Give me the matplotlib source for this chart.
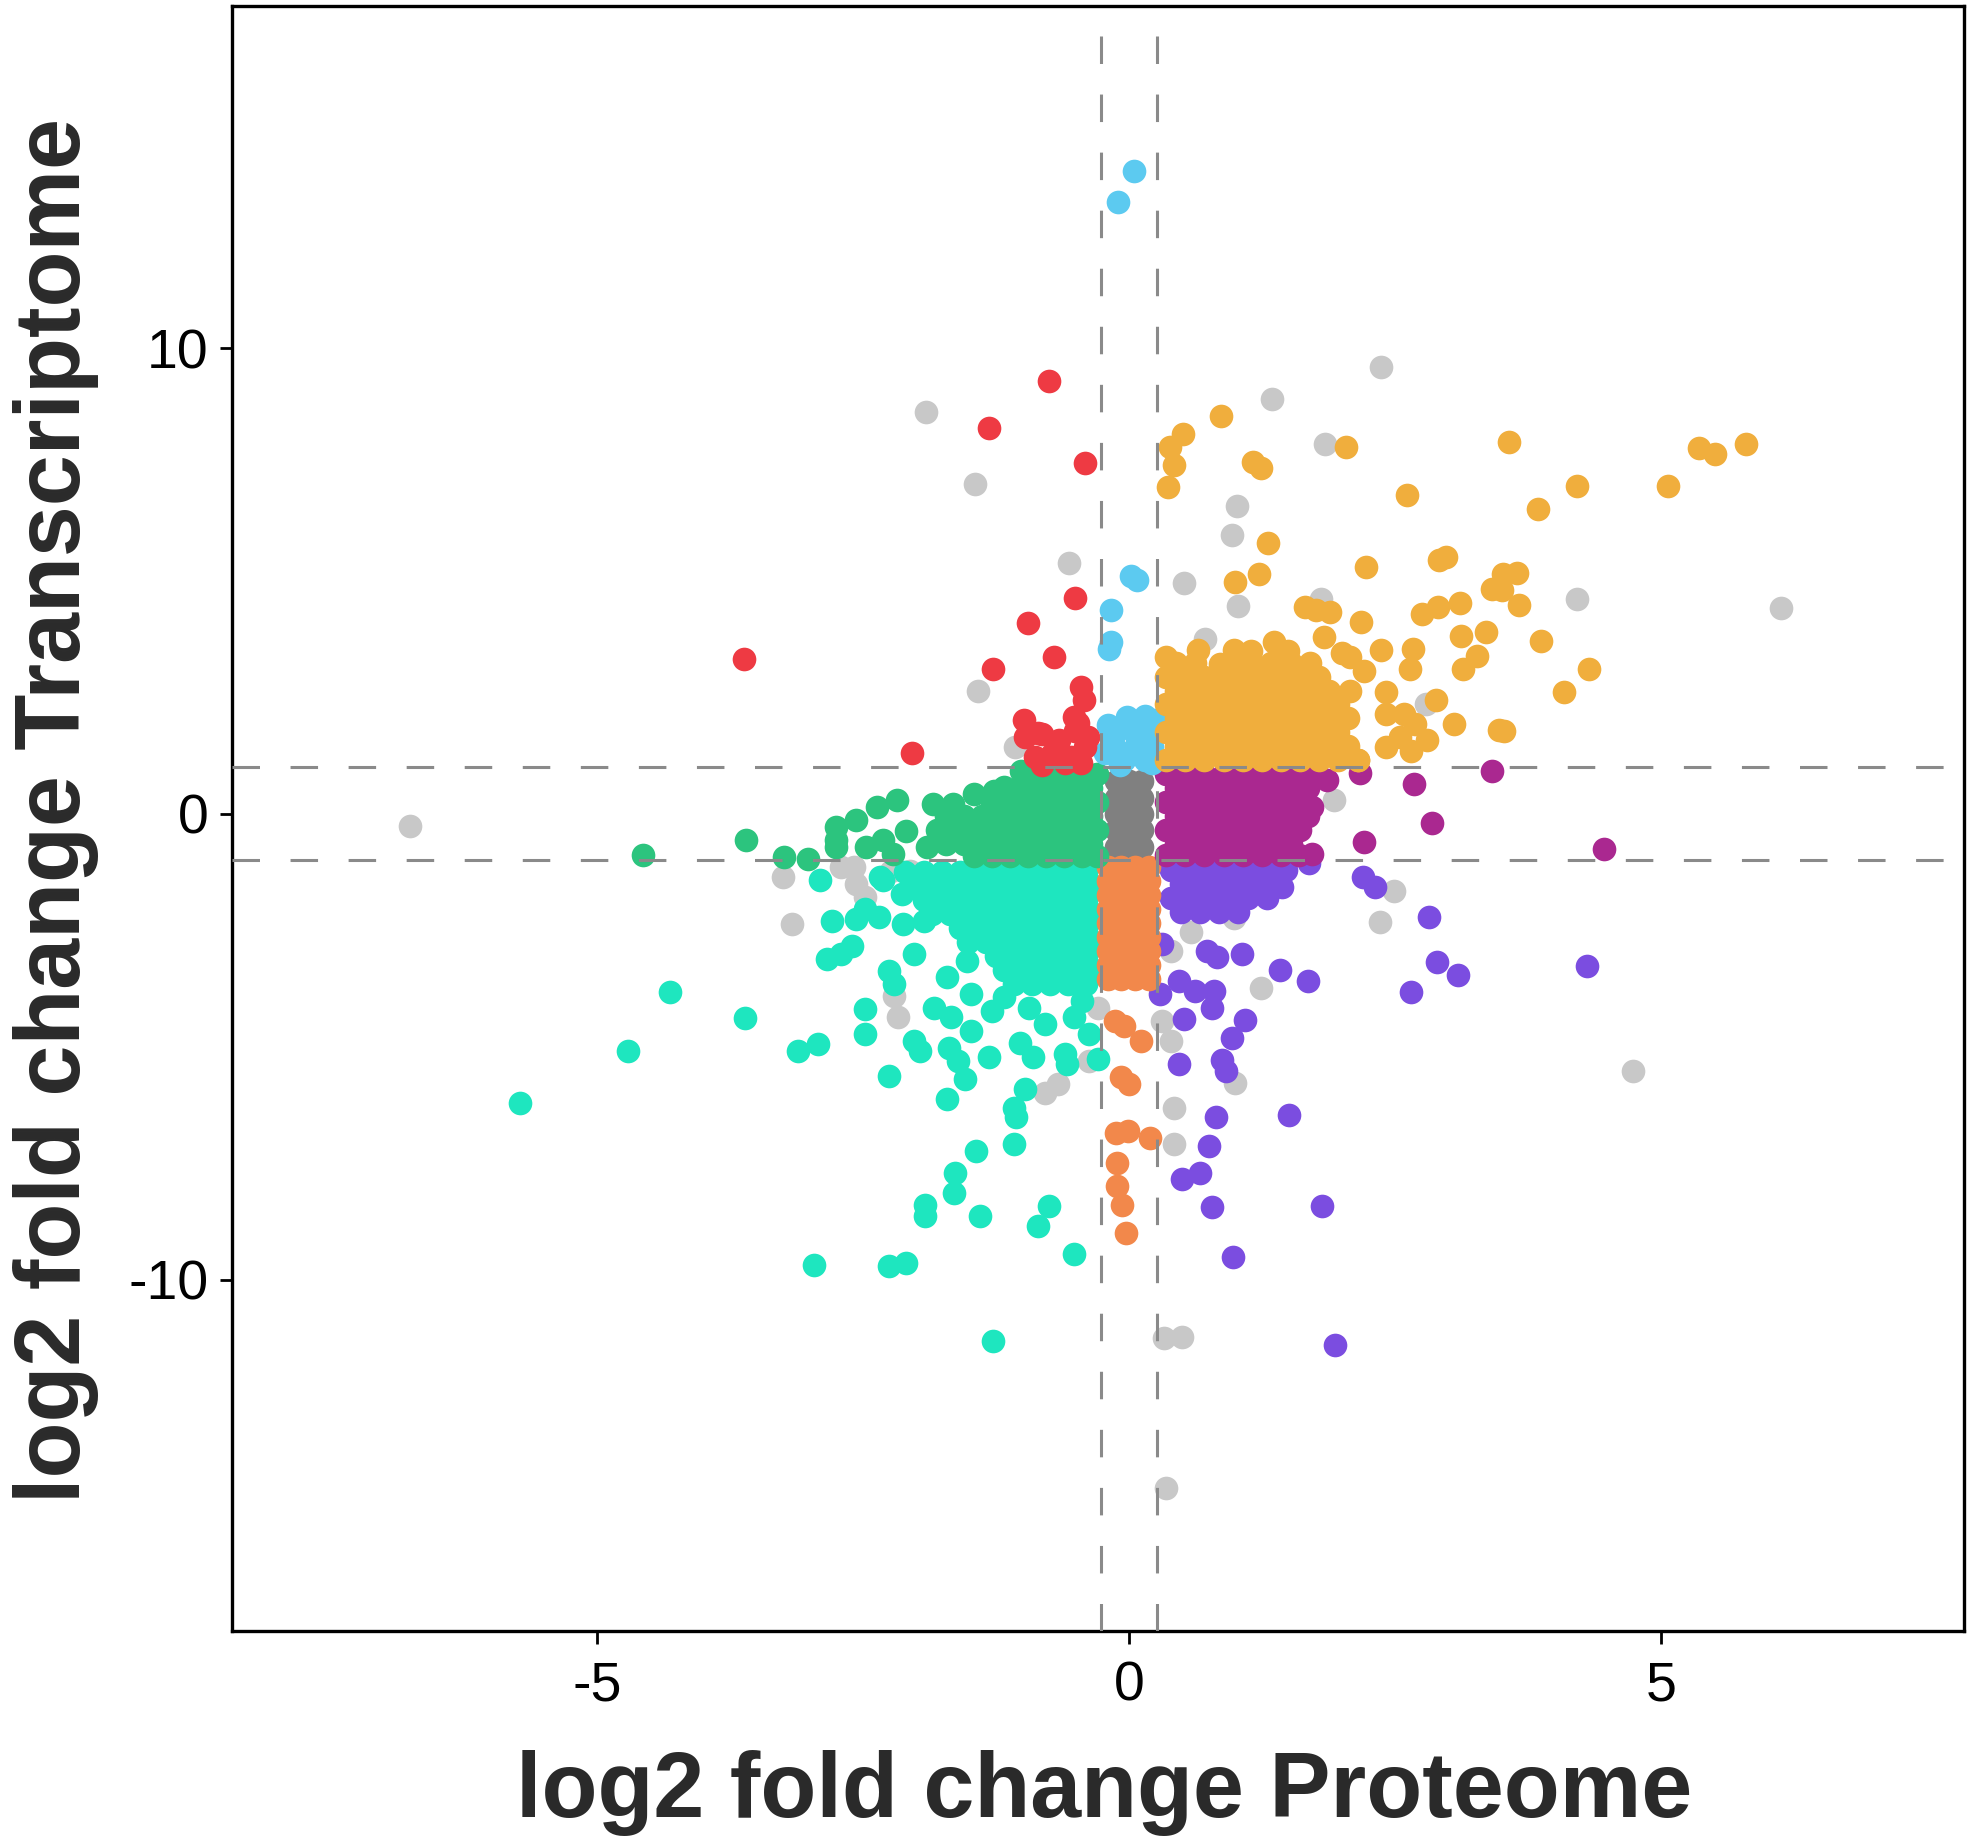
import numpy as np
import matplotlib
matplotlib.use("Agg")
import matplotlib.pyplot as plt

plt.rcParams['font.family'] = ['Liberation Sans', 'DejaVu Sans']
plt.rcParams['axes.unicode_minus'] = False

# thresholds
x_cut = 0.263
y_cut = 1.0

# not significant
ns_pts = [(-6.76, -0.27), (-1.91, 8.63), (-1.45, 7.08), (-1.42, 2.63), (-0.56, 5.39), (-1.07, 1.43),
          (1.35, 8.92), (2.37, 9.59), (1.84, 7.94), (1.02, 6.61), (0.97, 5.99), (0.52, 4.96), (1.03, 4.46),
          (0.72, 3.76), (1.81, 4.62), (4.21, 4.62), (6.13, 4.43), (2.79, 2.37), (1.93, 0.29),
          (-3.25, -1.36), (-3.17, -2.37), (-2.71, -1.15), (-2.58, -1.15), (-2.56, -1.51), (-2.48, -1.79),
          (-2.17, -4.37), (-2.21, -3.91), (-2.06, -1.22), (-2.24, -1.22), (-0.37, -3.30), (-0.79, -5.99),
          (-0.67, -5.81), (-0.37, -5.31), (-0.29, -4.16),
          (2.49, -1.66), (2.36, -2.33), (1.24, -3.74), (0.99, -2.24), (0.58, -2.54), (0.40, -2.94),
          (1.00, -5.77), (0.42, -6.31), (0.42, -7.08), (0.40, -4.87), (0.31, -4.44), (4.74, -5.53),
          (0.33, -11.25), (0.50, -11.24), (0.35, -14.48)]

# both unchanged
mid_pts = [(-0.12, 0.7), (0.0, 0.7), (0.12, 0.7), (-0.12, 0.35), (0.0, 0.35), (0.12, 0.35),
           (-0.12, 0.0), (0.0, 0.0), (0.12, 0.0), (-0.12, -0.35), (0.0, -0.35), (0.12, -0.35),
           (-0.12, -0.7), (0.0, -0.7), (0.12, -0.7)]

# protein down, transcript unchanged
green_pts = [(-4.57, -0.88), (-3.60, -0.57), (-3.24, -0.93), (-3.02, -0.97), (-2.75, -0.29), (-2.56, -0.14),
             (-2.37, 0.14), (-2.18, 0.29), (-2.75, -0.57), (-2.47, -0.72), (-2.31, -0.57), (-2.09, -0.36),
             (-2.22, -0.86), (-1.90, -0.72), (-1.84, 0.22), (-1.65, 0.22), (-1.46, 0.43), (-1.27, 0.50),
             (-1.17, 0.57), (-1.01, 0.93), (-2.75, -0.72),
             (-0.95, 0.85), (-0.78, 0.85), (-0.61, 0.85), (-0.44, 0.85), (-0.30, 0.85),
             (-1.04, 0.55), (-0.87, 0.55), (-0.70, 0.55), (-0.53, 0.55), (-0.36, 0.55),
             (-1.29, 0.25), (-1.12, 0.25), (-0.95, 0.25), (-0.78, 0.25), (-0.61, 0.25), (-0.44, 0.25),
             (-0.30, 0.25),
             (-1.72, -0.05), (-1.55, -0.05), (-1.38, -0.05), (-1.21, -0.05), (-1.04, -0.05), (-0.87, -0.05),
             (-0.70, -0.05), (-0.53, -0.05), (-0.36, -0.05),
             (-1.80, -0.35), (-1.63, -0.35), (-1.46, -0.35), (-1.29, -0.35), (-1.12, -0.35), (-0.95, -0.35),
             (-0.78, -0.35), (-0.61, -0.35), (-0.44, -0.35), (-0.30, -0.35),
             (-1.72, -0.65), (-1.55, -0.65), (-1.38, -0.65), (-1.21, -0.65), (-1.04, -0.65), (-0.87, -0.65),
             (-0.70, -0.65), (-0.53, -0.65), (-0.36, -0.65),
             (-1.46, -0.90), (-1.29, -0.90), (-1.12, -0.90), (-0.95, -0.90), (-0.78, -0.90), (-0.61, -0.90),
             (-0.44, -0.90), (-0.30, -0.90)]

# protein down, transcript up
red_pts = [(-0.75, 9.30), (-1.31, 8.28), (-0.41, 7.53), (-3.62, 3.33), (-0.51, 4.64), (-0.95, 4.09),
           (-0.70, 3.38), (-1.28, 3.11), (-0.45, 2.73), (-0.42, 2.45), (-2.04, 1.31), (-0.99, 2.02),
           (-0.85, 1.73), (-0.52, 2.08), (-0.48, 1.95), (-0.98, 1.65), (-0.82, 1.72), (-0.66, 1.58),
           (-0.505, 1.79), (-0.41, 1.43), (-0.88, 1.22), (-0.72, 1.29), (-0.54, 1.22), (-0.82, 1.05),
           (-0.38, 1.65), (-0.60, 1.10), (-0.45, 1.10)]

# protein unchanged, transcript up
blue_pts = [(0.05, 13.80), (-0.10, 13.15), (0.02, 5.12), (0.08, 5.02), (-0.17, 4.37), (-0.17, 3.69),
            (-0.19, 3.55), (-0.02, 2.08), (0.25, 2.01), (0.15, 2.10), (-0.15, 1.65), (0.08, 1.58),
            (0.22, 1.43), (-0.05, 1.15), (0.15, 1.15), (-0.22, 1.30), (-0.10, 1.80), (0.05, 1.85),
            (0.20, 1.70), (-0.20, 1.90), (0.12, 1.35), (-0.12, 1.40), (0.0, 1.30), (-0.08, 1.05),
            (0.22, 1.10)]

# both up
yellow_pts = [(0.51, 8.15), (0.39, 7.89), (0.42, 7.49), (0.37, 7.03), (0.87, 8.55), (1.17, 7.56),
              (1.24, 7.42), (2.04, 7.89), (1.31, 5.82), (2.61, 6.84), (3.57, 7.99), (4.21, 7.04),
              (3.85, 6.54), (5.07, 7.04), (5.36, 7.85), (5.51, 7.73), (5.80, 7.94), (3.52, 5.16),
              (3.65, 5.18), (3.51, 4.81), (3.67, 4.48), (3.87, 3.72), (4.33, 3.12), (4.09, 2.62),
              (3.53, 1.79), (1.22, 5.16), (1.00, 4.98), (2.23, 5.31), (2.92, 5.46), (2.98, 5.52),
              (3.41, 4.84), (2.76, 4.29), (2.91, 4.45), (3.11, 4.52), (3.12, 3.83), (3.36, 3.91),
              (3.27, 3.40), (3.14, 3.12), (2.67, 3.55), (2.64, 3.12), (2.42, 2.62), (2.89, 2.44),
              (3.06, 1.94), (3.48, 1.81), (2.42, 2.15), (2.59, 2.15), (2.69, 1.94), (2.80, 1.58),
              (2.65, 1.36), (2.42, 1.43), (2.55, 1.65), (2.18, 4.12), (1.76, 4.37), (1.89, 4.34),
              (2.37, 3.51), (2.15, 1.15), (1.36, 3.69), (1.66, 4.44), (1.83, 3.80), (2.08, 3.37),
              (2.21, 3.08), (2.08, 2.65), (0.35, 3.37), (0.65, 3.51), (0.99, 3.51), (0.86, 3.23),
              (0.35, 1.15), (0.53, 1.15), (0.71, 1.15), (0.89, 1.15), (1.07, 1.15), (1.25, 1.15),
              (1.43, 1.15), (1.61, 1.15), (1.79, 1.15), (1.97, 1.15), (2.15, 1.15),
              (0.44, 1.45), (0.62, 1.45), (0.80, 1.45), (0.98, 1.45), (1.16, 1.45), (1.34, 1.45),
              (1.52, 1.45), (1.70, 1.45), (1.88, 1.45), (2.06, 1.45),
              (0.35, 1.75), (0.53, 1.75), (0.71, 1.75), (0.89, 1.75), (1.07, 1.75), (1.25, 1.75),
              (1.43, 1.75), (1.61, 1.75), (1.79, 1.75), (1.97, 1.75),
              (0.44, 2.05), (0.62, 2.05), (0.80, 2.05), (0.98, 2.05), (1.16, 2.05), (1.34, 2.05),
              (1.52, 2.05), (1.70, 2.05), (1.88, 2.05), (2.06, 2.05),
              (0.35, 2.35), (0.53, 2.35), (0.71, 2.35), (0.89, 2.35), (1.07, 2.35), (1.25, 2.35),
              (1.43, 2.35), (1.61, 2.35), (1.79, 2.35), (1.97, 2.35),
              (0.44, 2.65), (0.62, 2.65), (0.80, 2.65), (0.98, 2.65), (1.16, 2.65), (1.34, 2.65),
              (1.52, 2.65), (1.70, 2.65), (1.88, 2.65),
              (0.35, 2.95), (0.53, 2.95), (0.71, 2.95), (0.89, 2.95), (1.07, 2.95), (1.25, 2.95),
              (1.43, 2.95), (1.61, 2.95), (1.79, 2.95),
              (0.44, 3.25), (0.62, 3.25), (0.98, 3.25), (1.16, 3.25), (1.34, 3.25), (1.52, 3.25),
              (1.70, 3.25),
              (1.15, 3.50), (1.50, 3.50), (2.00, 3.45)]

# protein up, transcript unchanged
magenta_pts = [(1.86, 0.72), (2.17, 0.88), (2.68, 0.65), (2.85, -0.20), (2.21, -0.60), (1.72, 0.14),
               (1.72, -0.86), (3.41, 0.93), (4.47, -0.75),
               (0.35, 0.85), (0.53, 0.85), (0.71, 0.85), (0.89, 0.85), (1.07, 0.85), (1.25, 0.85),
               (1.43, 0.85), (1.61, 0.85), (1.77, 0.85),
               (0.44, 0.55), (0.62, 0.55), (0.80, 0.55), (0.98, 0.55), (1.16, 0.55), (1.34, 0.55),
               (1.52, 0.55), (1.68, 0.55),
               (0.35, 0.25), (0.53, 0.25), (0.71, 0.25), (0.89, 0.25), (1.07, 0.25), (1.25, 0.25),
               (1.43, 0.25), (1.61, 0.25),
               (0.44, -0.05), (0.62, -0.05), (0.80, -0.05), (0.98, -0.05), (1.16, -0.05), (1.34, -0.05),
               (1.52, -0.05), (1.68, -0.05),
               (0.35, -0.35), (0.53, -0.35), (0.71, -0.35), (0.89, -0.35), (1.07, -0.35), (1.25, -0.35),
               (1.43, -0.35), (1.61, -0.35),
               (0.44, -0.65), (0.62, -0.65), (0.80, -0.65), (0.98, -0.65), (1.16, -0.65), (1.34, -0.65),
               (1.52, -0.65),
               (0.35, -0.88), (0.53, -0.88), (0.71, -0.88), (0.89, -0.88), (1.07, -0.88), (1.25, -0.88),
               (1.43, -0.88), (1.60, -0.88)]

# protein up, transcript down
purple_pts = [(1.44, -1.58), (1.69, -1.06), (2.20, -1.36), (2.31, -1.56), (2.82, -2.22), (2.90, -3.19),
              (3.09, -3.46), (2.65, -3.83), (4.31, -3.27), (0.73, -2.94), (0.83, -3.08), (1.06, -3.01),
              (1.42, -3.35), (1.68, -3.58), (0.31, -2.80), (0.47, -3.58), (0.62, -3.80), (0.80, -3.80),
              (0.78, -4.16), (0.29, -3.87), (0.52, -4.41), (1.09, -4.43), (0.97, -4.82), (0.88, -5.29),
              (0.91, -5.52), (0.47, -5.38), (1.51, -6.46), (0.82, -6.52), (0.75, -7.13), (0.67, -7.72),
              (0.50, -7.85), (0.78, -8.45), (1.82, -8.42), (0.98, -9.52), (1.94, -11.40),
              (0.40, -1.2), (0.58, -1.2), (0.76, -1.2), (0.94, -1.2), (1.12, -1.2), (1.30, -1.2), (1.48, -1.2),
              (0.49, -1.5), (0.67, -1.5), (0.85, -1.5), (1.03, -1.5), (1.21, -1.5), (1.39, -1.5),
              (0.40, -1.8), (0.58, -1.8), (0.76, -1.8), (0.94, -1.8), (1.12, -1.8), (1.30, -1.8),
              (0.49, -2.1), (0.67, -2.1), (0.85, -2.1), (1.03, -2.1)]

# both down
teal_pts = [(-5.72, -6.20), (-4.71, -5.10), (-4.31, -3.82), (-3.61, -4.39), (-3.11, -5.09), (-2.92, -4.95),
            (-2.48, -4.19), (-2.48, -4.72), (-2.25, -5.63), (-1.71, -6.13), (-2.02, -4.88), (-1.96, -5.09),
            (-1.44, -7.24), (-1.08, -7.10), (-1.63, -7.71), (-1.06, -6.52), (-1.08, -6.31), (-0.98, -5.91),
            (-1.31, -5.23), (-1.54, -5.70), (-1.61, -5.31), (-1.69, -5.02), (-1.02, -4.91), (-0.90, -5.23),
            (-0.58, -5.38), (-0.60, -5.16), (-0.29, -5.27), (-0.37, -4.73), (-0.52, -4.37), (-0.44, -4.01),
            (-0.79, -4.52), (-0.94, -4.16), (-1.83, -4.16), (-1.67, -4.37), (-1.48, -4.66), (-1.29, -4.23),
            (-2.25, -3.37), (-2.21, -3.66), (-2.02, -3.01), (-1.71, -3.51), (-1.52, -3.15), (-1.48, -3.87),
            (-1.17, -3.94), (-2.84, -3.12), (-2.71, -3.01), (-2.60, -2.83), (-2.79, -2.29), (-2.56, -2.26),
            (-2.48, -2.04), (-2.35, -2.22), (-2.12, -2.37), (-1.93, -2.29), (-2.90, -1.43), (-2.31, -1.43),
            (-2.13, -1.72), (-2.34, -1.36),
            (-2.96, -9.68), (-2.25, -9.70), (-2.09, -9.64), (-1.28, -11.33), (-0.52, -9.45), (-0.85, -8.85),
            (-0.75, -8.42), (-1.40, -8.64), (-1.92, -8.39), (-1.92, -8.64), (-1.64, -8.14),
            (-2.10, -1.25), (-1.93, -1.25), (-1.76, -1.25), (-1.59, -1.25), (-1.42, -1.25), (-1.25, -1.25),
            (-1.08, -1.25), (-0.91, -1.25), (-0.74, -1.25), (-0.57, -1.25), (-0.40, -1.25),
            (-2.02, -1.55), (-1.85, -1.55), (-1.68, -1.55), (-1.51, -1.55), (-1.34, -1.55), (-1.17, -1.55),
            (-1.00, -1.55), (-0.83, -1.55), (-0.66, -1.55), (-0.49, -1.55), (-0.33, -1.55),
            (-1.93, -1.85), (-1.76, -1.85), (-1.59, -1.85), (-1.42, -1.85), (-1.25, -1.85), (-1.08, -1.85),
            (-0.91, -1.85), (-0.74, -1.85), (-0.57, -1.85), (-0.40, -1.85),
            (-1.85, -2.15), (-1.68, -2.15), (-1.51, -2.15), (-1.34, -2.15), (-1.17, -2.15), (-1.00, -2.15),
            (-0.83, -2.15), (-0.66, -2.15), (-0.49, -2.15), (-0.33, -2.15),
            (-1.59, -2.45), (-1.42, -2.45), (-1.25, -2.45), (-1.08, -2.45), (-0.91, -2.45), (-0.74, -2.45),
            (-0.57, -2.45), (-0.40, -2.45),
            (-1.51, -2.75), (-1.34, -2.75), (-1.17, -2.75), (-1.00, -2.75), (-0.83, -2.75), (-0.66, -2.75),
            (-0.49, -2.75), (-0.33, -2.75),
            (-1.25, -3.05), (-1.08, -3.05), (-0.91, -3.05), (-0.74, -3.05), (-0.57, -3.05), (-0.40, -3.05),
            (-1.17, -3.35), (-1.00, -3.35), (-0.83, -3.35), (-0.66, -3.35), (-0.49, -3.35), (-0.33, -3.35),
            (-1.08, -3.65), (-0.91, -3.65), (-0.74, -3.65), (-0.57, -3.65), (-0.40, -3.65)]

# protein unchanged, transcript down
orange_pts = [(-0.20, -1.15), (-0.07, -1.15), (0.06, -1.15), (0.19, -1.15),
              (-0.20, -1.45), (-0.07, -1.45), (0.06, -1.45), (0.19, -1.45),
              (-0.20, -1.75), (-0.07, -1.75), (0.06, -1.75), (0.19, -1.75),
              (-0.20, -2.05), (-0.07, -2.05), (0.06, -2.05), (0.19, -2.05),
              (-0.20, -2.35), (-0.07, -2.35), (0.06, -2.35), (0.19, -2.35),
              (-0.20, -2.65), (-0.07, -2.65), (0.06, -2.65), (0.19, -2.65),
              (-0.20, -2.95), (-0.07, -2.95), (0.06, -2.95), (0.19, -2.95),
              (-0.20, -3.25), (-0.07, -3.25), (0.06, -3.25), (0.19, -3.25),
              (-0.20, -3.55), (-0.07, -3.55), (0.06, -3.55), (0.19, -3.55),
              (-0.13, -4.44), (-0.05, -4.55), (0.11, -4.87), (-0.07, -5.66), (0.0, -5.81), (-0.12, -6.85),
              (-0.01, -6.80), (0.20, -6.95), (-0.11, -7.49), (-0.11, -7.99), (-0.06, -8.39), (-0.03, -9.01)]

# draw order and colours
groups = [
    (ns_pts, '#c8c8c8'),
    (mid_pts, '#808080'),
    (purple_pts, '#7b4de0'),
    (teal_pts, '#1ee6bf'),
    (orange_pts, '#f2884b'),
    (magenta_pts, '#aa2890'),
    (green_pts, '#2cc47e'),
    (blue_pts, '#5ccaf0'),
    (red_pts, '#ee3a43'),
    (yellow_pts, '#f0ae3d'),
]

fig = plt.figure(figsize=(19.83, 18.43), dpi=100)
ax = fig.add_axes([0.117, 0.115, 0.8734, 0.8817])

for pts, col in groups:
    arr = np.array(pts)
    ax.scatter(arr[:, 0], arr[:, 1], s=290, c=col, linewidths=0, zorder=2)

# threshold lines
for v in (-x_cut, x_cut):
    ax.axvline(v, color='#8a8a8a', lw=2.2, dashes=(9, 10), zorder=3)
for v in (-y_cut, y_cut):
    ax.axhline(v, color='#8a8a8a', lw=2.2, dashes=(9, 10), zorder=3)

ax.set_xlim(-8.43, 7.85)
ax.set_ylim(-17.55, 17.35)
ax.set_xticks([-5, 0, 5])
ax.set_yticks([-10, 0, 10])
ax.tick_params(labelsize=40, length=9, width=2, colors='black')
ax.tick_params(axis='y', pad=8)
ax.tick_params(axis='x', pad=12)
for sp in ax.spines.values():
    sp.set_linewidth(2.4)

fig.text(0.557, 0.0141, 'log2 fold change Proteome', fontsize=66, fontweight='bold',
         color='#2a2a2a', ha='center', va='baseline')
fig.text(0.028, 0.56, 'log2 fold change Transcriptome', fontsize=66, fontweight='bold',
         color='#2a2a2a', ha='center', va='center', rotation=90)

fig.savefig('out.png', dpi=100)
